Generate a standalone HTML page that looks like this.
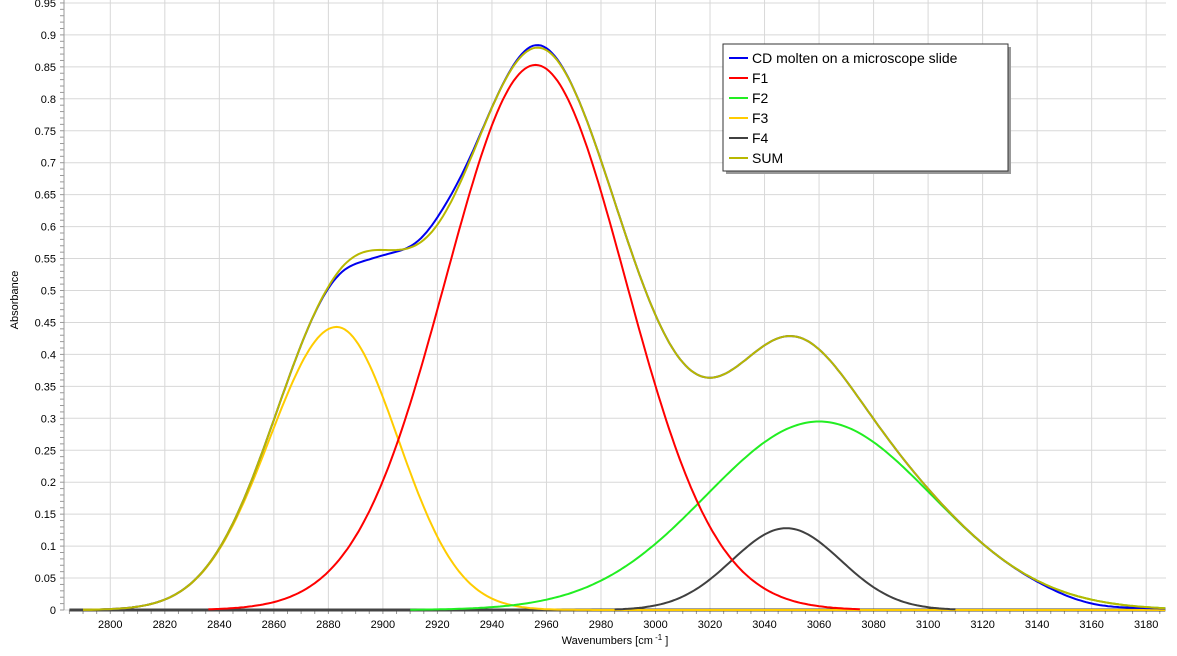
<!DOCTYPE html><html><head><style>body{margin:0;background:#fff}svg{display:block;font-family:"Liberation Sans",sans-serif}</style></head><body>
<svg id="s" width="1177" height="656" xmlns="http://www.w3.org/2000/svg"></svg>
<script>
const s=document.getElementById('s');let h='';
const X=v=>110.3+(v-2800)*2.726, Y=v=>610-v/0.05*31.95;
const L=64,R=1166,T=0,B=610;
for(let v=2800;v<=3180;v+=20){h+=`<line x1="${X(v)}" y1="${T}" x2="${X(v)}" y2="${B}" stroke="#d8d8d8"/>`;h+=`<text x="${X(v)}" y="628" font-size="11" text-anchor="middle">${v}</text>`;}
for(let v=2785;v<=3185;v+=5)h+=`<line x1="${X(v)}" y1="${B}" x2="${X(v)}" y2="${B+4}" stroke="#999"/>`;
for(let i=0;i<=19;i++){let v=i*0.05,y=Y(v);h+=`<line x1="${L}" y1="${y}" x2="${R}" y2="${y}" stroke="#d8d8d8"/>`;h+=`<text x="56" y="${y+4}" font-size="11" text-anchor="end">${+v.toFixed(2)}</text>`;}
for(let i=0;i<=95;i++){let y=Y(i*0.01);h+=`<line x1="${L-4}" y1="${y}" x2="${L}" y2="${y}" stroke="#999"/>`;}
h+=`<line x1="${L}" y1="0" x2="${L}" y2="${B}" stroke="#999"/>`;
const g=(x,c,a,sg)=>a*Math.exp(-(x-c)*(x-c)/(2*sg*sg));
const f1=x=>g(x,2956,0.853,33),f3=x=>g(x,2883,0.443,x<2883?24.5:22.5),f2=x=>g(x,3060,0.295,41.5),f4=x=>g(x,3048,0.128,20);
const sum=x=>f1(x)+f2(x)+f3(x)+f4(x)+g(x,2905,0.03,14)+g(x,2958,0.012,12);
const blue=x=>sum(x)+g(x,2922,0.012,7)-g(x,2893,0.014,7)+g(x,2956,0.004,6)-g(x,3160,0.006,12);
function path(f,a,b,c,w){let d='';for(let x=a;x<=b;x+=1)d+=(d?'L':'M')+X(x).toFixed(1)+','+Y(f(x)).toFixed(1);h+=`<path d="${d}" fill="none" stroke="${c}" stroke-width="${w||2}"/>`;}
path(x=>0,2785,3187,'#444',3);
path(f3,2790,3187,'#ffcc00');
path(f4,2985,3110,'#404040');
path(f2,2910,3187,'#22ee22');
path(f1,2836,3075,'#ff0000');
path(blue,2795,3187,'#0000ee');
path(sum,2790,3187,'#b8b800');
h+=`<text x="615" y="644" font-size="11" text-anchor="middle">Wavenumbers [cm<tspan font-size="8" dy="-4"> -1</tspan><tspan dy="4"> ]</tspan></text>`;
h+=`<text transform="translate(18,300) rotate(-90)" font-size="11" text-anchor="middle">Absorbance</text>`;
h+=`<rect x="726" y="47" width="285" height="127" fill="#999"/><rect x="723" y="44" width="285" height="127" fill="#fff" stroke="#333"/>`;
[['CD molten on a microscope slide','#0000ee'],['F1','#ff0000'],['F2','#22ee22'],['F3','#ffcc00'],['F4','#404040'],['SUM','#b8b800']].forEach((e,i)=>{let y=58+i*20;h+=`<line x1="729" y1="${y}" x2="748" y2="${y}" stroke="${e[1]}" stroke-width="2"/><text x="752" y="${y+5}" font-size="14">${e[0]}</text>`;});
s.innerHTML=h;
</script></body></html>
